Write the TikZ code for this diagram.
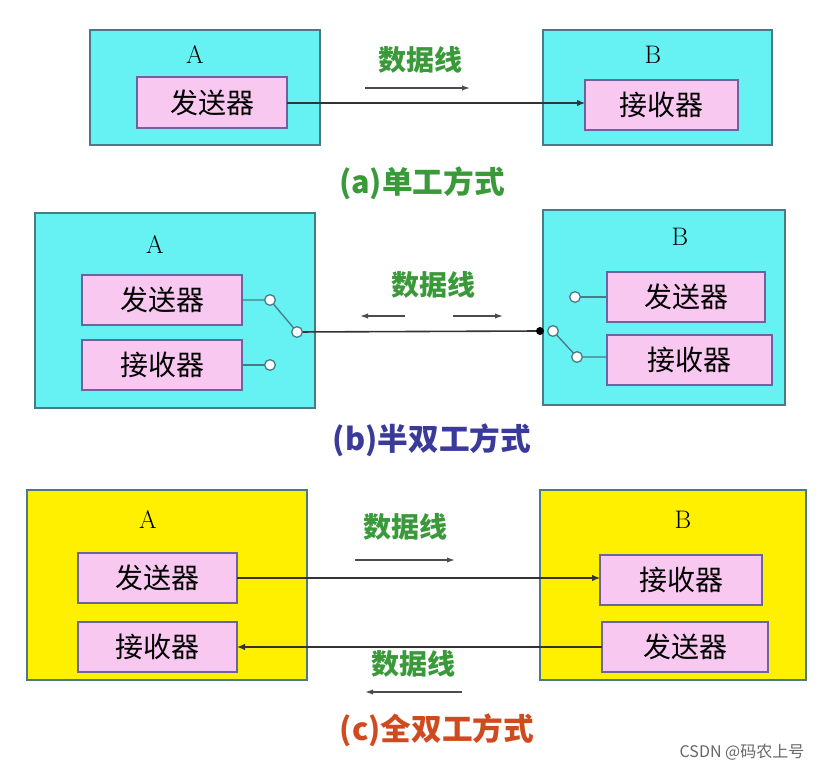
\documentclass[tikz,border=0pt]{standalone}
\usepackage{fontspec}
\newfontfamily\cjk{Noto Sans CJK SC}
\usetikzlibrary{arrows.meta}
\definecolor{cy}{HTML}{66F2F2}
\definecolor{pk}{HTML}{F8C8F0}
\definecolor{yl}{HTML}{FFF000}
\definecolor{bd}{HTML}{4A7A8A}
\definecolor{gr}{HTML}{3A9A3A}
\definecolor{bl}{HTML}{3A3A9A}
\definecolor{rd}{HTML}{D04A20}
\tikzset{
 outer/.style={draw=bd,line width=1pt},
 inner/.style={draw=bd!80!magenta,fill=pk,line width=1pt},
 itext/.style={font=\cjk\fontsize{21}{21}\selectfont},
 lab/.style={font=\fontsize{19}{19}\selectfont},
 dl/.style={text=gr,font=\cjk\bfseries\fontsize{21}{21}\selectfont},
 captxt/.style={font=\cjk\bfseries\fontsize{23}{23}\selectfont},
 wire/.style={draw=black!80,line width=1pt,-{Latex[length=6pt,width=5pt]}},
 sm/.style={draw=black!70,line width=1pt,-{Latex[length=6pt,width=4pt]}},
 sw/.style={draw=bd,line width=1pt},
 pole/.style={circle,draw=bd,fill=white,line width=1pt,inner sep=0pt,minimum size=8pt}
}
\begin{document}
\begin{tikzpicture}[x=0.75pt,y=-0.75pt]
\useasboundingbox (0,0) rectangle (826,773);
% (a)
\draw[outer,fill=cy] (90,30) rectangle (320,145);
\draw[outer,fill=cy] (543,30) rectangle (772,145);
\node[lab] (aA) at (195,55) {A};
\node[lab] (aB) at (653,55) {B};
\draw[inner] (137,77) rectangle (287,128);
\node[itext] (as) at (212,103) {发送器};
\draw[inner] (585,80) rectangle (738,130);
\node[itext] (ar) at (661,105) {接收器};
\coordinate (a1) at (287,103); \coordinate (a2) at (585,103);
\draw[wire] (a1) -- (a2);
\node[dl] (adl) at (420,60) {数据线};
\coordinate (as1) at (365,88); \coordinate (as2) at (470,88);
\draw[sm] (as1) -- (as2);
\node[captxt,text=gr] (capa) at (422,183) {(a)单工方式};
% (b)
\draw[outer,fill=cy] (35,213) rectangle (315,408);
\draw[outer,fill=cy] (543,210) rectangle (785,405);
\node[lab] (bA) at (155,245) {A};
\node[lab] (bB) at (680,237) {B};
\draw[inner] (82,275) rectangle (242,325);
\node[itext] (bs) at (162,300) {发送器};
\draw[inner] (82,340) rectangle (242,390);
\node[itext] (br) at (162,365) {接收器};
\draw[inner] (607,272) rectangle (765,322);
\node[itext] (bs2) at (686,297) {发送器};
\draw[inner] (607,335) rectangle (772,385);
\node[itext] (br2) at (689,360) {接收器};
\coordinate (p1s) at (242,300); \coordinate (p3s) at (242,365);
\coordinate (q1e) at (607,297); \coordinate (q3e) at (607,357);
\coordinate (dot) at (540,331);
\draw[sw] (p1s) -- (270,300) -- (297,332);
\draw[sw] (p3s) -- (270,365);
\draw[sw] (575,297) -- (q1e);
\draw[sw] (553,331) -- (577,357) -- (q3e);
\draw[draw=black!80,line width=1.2pt] (297,332) -- (dot);
\node[pole] (p1) at (270,300) {};
\node[pole] (p2) at (297,332) {};
\node[pole] (p3) at (270,365) {};
\node[pole] (q1) at (575,297) {};
\node[pole] (q2) at (553,331) {};
\node[pole] (q3) at (577,357) {};
\fill[black] (dot) circle (3pt);
\node[dl] (bdl) at (433,285) {数据线};
\coordinate (bl1) at (405,316); \coordinate (bl2) at (360,316);
\coordinate (br1) at (453,316); \coordinate (br2a) at (503,316);
\draw[sm] (bl1) -- (bl2); \draw[sm] (br1) -- (br2a);
\node[captxt,text=bl] (capb) at (432,440) {(b)半双工方式};
% (c)
\draw[outer,fill=yl] (27,490) rectangle (307,680);
\draw[outer,fill=yl] (540,490) rectangle (806,680);
\node[lab] (cA) at (148,520) {A};
\node[lab] (cB) at (683,520) {B};
\draw[inner] (78,553) rectangle (237,603);
\node[itext] (cs) at (157,578) {发送器};
\draw[inner] (78,622) rectangle (237,672);
\node[itext] (cr) at (157,647) {接收器};
\draw[inner] (600,555) rectangle (762,605);
\node[itext] (cr2) at (681,580) {接收器};
\draw[inner] (602,622) rectangle (768,672);
\node[itext] (cs2) at (685,647) {发送器};
\coordinate (c1) at (237,578); \coordinate (c2) at (600,578);
\coordinate (c3) at (602,647); \coordinate (c4) at (237,647);
\draw[wire] (c1) -- (c2); \draw[wire] (c3) -- (c4);
\node[dl] (cdl1) at (405,527) {数据线};
\node[dl] (cdl2) at (413,664) {数据线};
\coordinate (cs1) at (355,560); \coordinate (cs2a) at (455,560);
\coordinate (cs3) at (462,692); \coordinate (cs4) at (365,692);
\draw[sm] (cs1) -- (cs2a); \draw[sm] (cs3) -- (cs4);
\node[captxt,text=rd] (capc) at (437,730) {(c)全双工方式};
\node[font=\cjk\fontsize{12}{12}\selectfont,text=black!60] (wm) at (742,752) {CSDN @码农上号};
\end{tikzpicture}
\end{document}
